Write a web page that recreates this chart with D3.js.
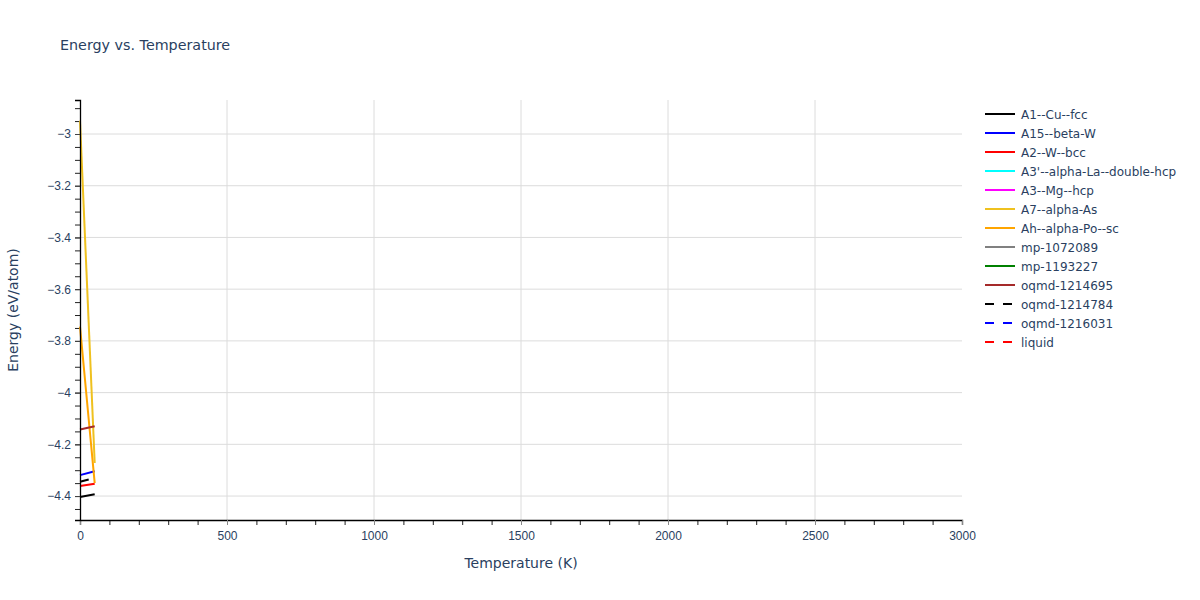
<!DOCTYPE html>
<html>
<head>
<meta charset="utf-8">
<script src="https://cdn.jsdelivr.net/npm/d3@7"></script>
<style>
  body { margin: 0; background: #fff; }
  svg { font-family: "DejaVu Sans", Verdana, sans-serif; }
</style>
</head>
<body>
<div id="chart"></div>
<script>
// data
var seriesNames = ["A1--Cu--fcc", "A15--beta-W", "A2--W--bcc", "A3'--alpha-La--double-hcp",
    "A3--Mg--hcp", "A7--alpha-As", "Ah--alpha-Po--sc", "mp-1072089", "mp-1193227",
    "oqmd-1214695", "oqmd-1214784", "oqmd-1216031", "liquid"];
var seriesColors = ["black", "blue", "red", "cyan", "magenta", "#efc11f", "orange",
    "gray", "green", "brown", "black", "blue", "red"];
var seriesDashed = [false, false, false, false, false, false, false, false, false, false, true, true, true];
var temps = [0, 50];
var energyA1 = [-4.404, -4.393];
var energyA15 = [-4.319, -4.304];
var energyA2 = [-4.361, -4.352];
var energyA3p = [];
var energyA3 = [];
var energyA7 = [-2.949, -4.272];
var energyAh = [-3.745, -4.350];
var energyMp1072089 = [];
var energyMp1193227 = [];
var energyOqmd1214695 = [-4.143, -4.130];
var energyOqmd1214784 = [-4.345, -4.330];
var energyOqmd1216031 = [];
var energyLiquid = [];
var xTicks = [0, 500, 1000, 1500, 2000, 2500, 3000];
var yTicks = [-3, -3.2, -3.4, -3.6, -3.8, -4, -4.2, -4.4];

var allEnergy = [energyA1, energyA15, energyA2, energyA3p, energyA3, energyA7, energyAh,
    energyMp1072089, energyMp1193227, energyOqmd1214695, energyOqmd1214784, energyOqmd1216031, energyLiquid];

function draw(){
    var margin = {top: 100, right: 238, bottom: 80, left: 80},
        width = 1200 - margin.left - margin.right,
        height = 600 - margin.top - margin.bottom;
    var textColor = "#2a3f5f";

    var root = d3.select("#chart")
        .append("svg")
            .attr("width", 1200)
            .attr("height", 600);
    var svg = root.append("g")
            .attr("transform", "translate(" + margin.left + "," + margin.top + ")");

    var x = d3.scaleLinear().domain([0, 3000]).range([0, width]);
    var y = d3.scaleLinear().domain([-4.4926, -2.8685]).range([height, 0]);

    // grid
    svg.append("g").selectAll("line")
        .data(xTicks.filter(function(d){ return d > 0 && d < 3000; }))
        .enter().append("line")
            .attr("x1", function(d){ return x(d); })
            .attr("x2", function(d){ return x(d); })
            .attr("y1", 0).attr("y2", height)
            .attr("stroke", "#dcdcdc").attr("stroke-width", 1);
    svg.append("g").selectAll("line")
        .data(yTicks)
        .enter().append("line")
            .attr("x1", 0).attr("x2", width)
            .attr("y1", function(d){ return y(d); })
            .attr("y2", function(d){ return y(d); })
            .attr("stroke", "#dcdcdc").attr("stroke-width", 1);

    var fmt = function(d){ return d3.format("")(d).replace("-", "\u2212"); };

    // x axis with minor ticks
    var xMinor = svg.append("g")
        .attr("transform", "translate(0," + height + ")")
        .call(d3.axisBottom(x).ticks(30).tickSize(5).tickFormat(""));
    xMinor.select(".domain").remove();
    xMinor.selectAll(".tick line").attr("stroke", "#222");
    var xAxis = svg.append("g")
        .attr("transform", "translate(0," + height + ")")
        .call(d3.axisBottom(x).tickValues(xTicks).tickSize(5).tickPadding(6).tickFormat(fmt));
    xAxis.select(".domain").attr("stroke", "black").attr("stroke-width", 1.3);
    xAxis.selectAll("text").attr("fill", textColor).style("font-size", "12px");
    xAxis.selectAll(".tick line").attr("stroke", "#888");

    // y axis with minor ticks
    var yMinor = svg.append("g")
        .call(d3.axisLeft(y).tickValues(d3.range(-4.45, -2.86, 0.05)).tickSize(5).tickFormat(""));
    yMinor.select(".domain").remove();
    yMinor.selectAll(".tick line").attr("stroke", "#222");
    var yAxis = svg.append("g")
        .call(d3.axisLeft(y).tickValues(yTicks).tickSize(5).tickPadding(4).tickFormat(fmt));
    yAxis.select(".domain").attr("stroke", "black").attr("stroke-width", 1.3);
    yAxis.selectAll("text").attr("fill", textColor).style("font-size", "12px");
    yAxis.selectAll(".tick line").attr("stroke", "#444");

    // lines
    var line = d3.line()
        .x(function(d){ return x(d.t); })
        .y(function(d){ return y(d.e); });
    var lines = svg.append("g");
    seriesNames.forEach(function(name, i){
        var vals = allEnergy[i];
        if (!vals.length) return;
        var pts = vals.map(function(e, j){ return {t: temps[j], e: e}; });
        lines.append("path")
            .datum(pts)
            .attr("d", line)
            .attr("fill", "none")
            .attr("stroke", seriesColors[i])
            .attr("stroke-width", 2)
            .attr("stroke-dasharray", seriesDashed[i] ? "9,9" : null);
    });
    // redraw axis lines over the traces
    xAxis.raise(); yAxis.raise();

    // titles
    root.append("text")
        .attr("x", 60).attr("y", 50)
        .attr("fill", textColor).style("font-size", "14.3px")
        .text("Energy vs. Temperature");
    root.append("text")
        .attr("x", margin.left + width / 2).attr("y", 568)
        .attr("text-anchor", "middle")
        .attr("fill", textColor).style("font-size", "14px")
        .text("Temperature (K)");
    root.append("text")
        .attr("transform", "translate(18," + (margin.top + height / 2) + ") rotate(-90)")
        .attr("text-anchor", "middle")
        .attr("fill", textColor).style("font-size", "14px")
        .text("Energy (eV/atom)");

    // legend
    var legend = root.append("g").attr("transform", "translate(985,114)");
    var items = legend.selectAll("g")
        .data(seriesNames)
        .enter().append("g")
            .attr("transform", function(d, i){ return "translate(0," + (i * 19) + ")"; });
    items.append("line")
        .attr("x1", 0).attr("x2", 30)
        .attr("stroke", function(d, i){ return seriesColors[i]; })
        .attr("stroke-width", 2)
        .attr("stroke-dasharray", function(d, i){ return seriesDashed[i] ? "9,9" : null; });
    items.append("text")
        .attr("x", 36).attr("y", 4.5)
        .attr("fill", textColor).style("font-size", "12px")
        .text(function(d){ return d; });
}
draw();
</script>
</body>
</html>
